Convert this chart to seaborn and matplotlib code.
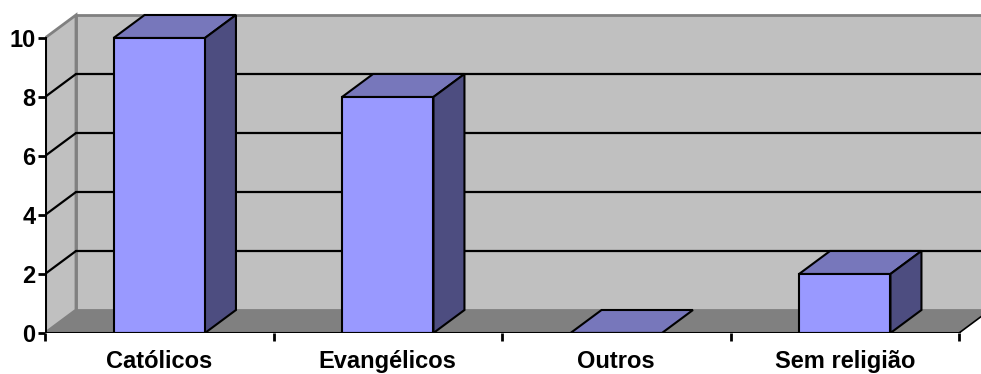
import matplotlib
matplotlib.use("Agg")
import matplotlib.pyplot as plt
from matplotlib.patches import Polygon
import seaborn as sns

categories = ["Católicos", "Evangélicos", "Outros", "Sem religião"]
values = [10, 8, 0, 2]
yticks = [0, 2, 4, 6, 8, 10]

FRONT = "#9999FF"
TOP = "#7777BB"
SIDE = "#4D4D80"
WALL = "#C0C0C0"
FLOOR = "#808080"
EDGE_GRAY = "#808080"

sns.set_theme(style="white")
plt.rcParams["font.family"] = ["Liberation Sans", "DejaVu Sans"]
plt.rcParams["text.color"] = "black"
plt.rcParams["xtick.color"] = "black"
plt.rcParams["ytick.color"] = "black"

W, H = 981, 374
fig = plt.figure(figsize=(W / 100, H / 100), dpi=100)

# pixel geometry of the front plane
px_left, px_right, px_base = 45, 959, 333
px_per_cat = (px_right - px_left) / len(categories)
px_per_unit = 29.5
depth_px = (31, 23)
dx = depth_px[0] / px_per_cat
dy = depth_px[1] / px_per_unit

x_lo, x_hi = -0.5, len(categories) - 0.5 + 0.25
y_lo, y_hi = 0, 11.2
ax_w = (x_hi - x_lo) * px_per_cat
ax_h = (y_hi - y_lo) * px_per_unit
ax = fig.add_axes([px_left / W, (H - px_base) / H, ax_w / W, ax_h / H])

sns.barplot(x=categories, y=values, color=FRONT, saturation=1, width=0.4,
            edgecolor="black", linewidth=1.5, zorder=5, ax=ax)
bars = list(ax.patches)

ax.set_xlim(x_lo, x_hi)
ax.set_ylim(y_lo, y_hi)
for s in ax.spines.values():
    s.set_visible(False)
ax.grid(False)
ax.set_facecolor("none")

n = len(categories)
xl, xr = -0.5, n - 0.5
ymax = yticks[-1]

# back wall, left wall and floor
ax.add_patch(Polygon([(xl + dx, dy), (xr + dx, dy), (xr + dx, ymax + dy), (xl + dx, ymax + dy)],
                     closed=True, facecolor=WALL, edgecolor=EDGE_GRAY, linewidth=2, zorder=0))
ax.add_patch(Polygon([(xl, 0), (xl + dx, dy), (xl + dx, ymax + dy), (xl, ymax)],
                     closed=True, facecolor=WALL, edgecolor=EDGE_GRAY, linewidth=2, zorder=0))
ax.add_patch(Polygon([(xl, 0), (xr, 0), (xr + dx, dy), (xl + dx, dy)],
                     closed=True, facecolor=FLOOR, edgecolor="none", zorder=1))
ax.plot([xr, xr + dx], [0, dy], color="black", lw=1.2, zorder=2, solid_capstyle="butt")

# gridlines on the walls
for v in yticks[1:-1]:
    ax.plot([xl + dx, xr + dx], [v + dy, v + dy], color="black", lw=1.6, zorder=1)
    ax.plot([xl, xl + dx], [v, v + dy], color="black", lw=1.6, zorder=1)

# axis lines
ax.plot([xl, xr], [0, 0], color="black", lw=2.2, zorder=6, solid_capstyle="projecting")
ax.plot([xl, xl], [0, ymax], color="black", lw=2.2, zorder=6, solid_capstyle="projecting")

# top and side faces of each bar
for p in bars:
    x0, w, h = p.get_x(), p.get_width(), p.get_height()
    ax.add_patch(Polygon([(x0, h), (x0 + w, h), (x0 + w + dx, h + dy), (x0 + dx, h + dy)],
                         closed=True, facecolor=TOP, edgecolor="black", linewidth=1.5, zorder=4))
    if h > 0:
        ax.add_patch(Polygon([(x0 + w, 0), (x0 + w + dx, dy), (x0 + w + dx, h + dy), (x0 + w, h)],
                             closed=True, facecolor=SIDE, edgecolor="black", linewidth=1.5, zorder=4))

# ticks and labels
ax.set_yticks(yticks)
ax.set_yticklabels([str(v) for v in yticks], fontsize=17, fontweight="bold", color="black")
ax.tick_params(axis="y", left=True, length=5, width=2, pad=2, color="black")
ax.set_xticks(range(n))
ax.set_xticklabels(categories, fontsize=17, fontweight="bold", color="black")
ax.set_xticks([i - 0.5 for i in range(n + 1)], minor=True)
ax.tick_params(axis="x", which="major", bottom=False, length=0, pad=12)
ax.tick_params(axis="x", which="minor", bottom=True, length=6, width=2, color="black")
ax.set_xlabel("")
ax.set_ylabel("")

fig.savefig("out.png", dpi=100)
